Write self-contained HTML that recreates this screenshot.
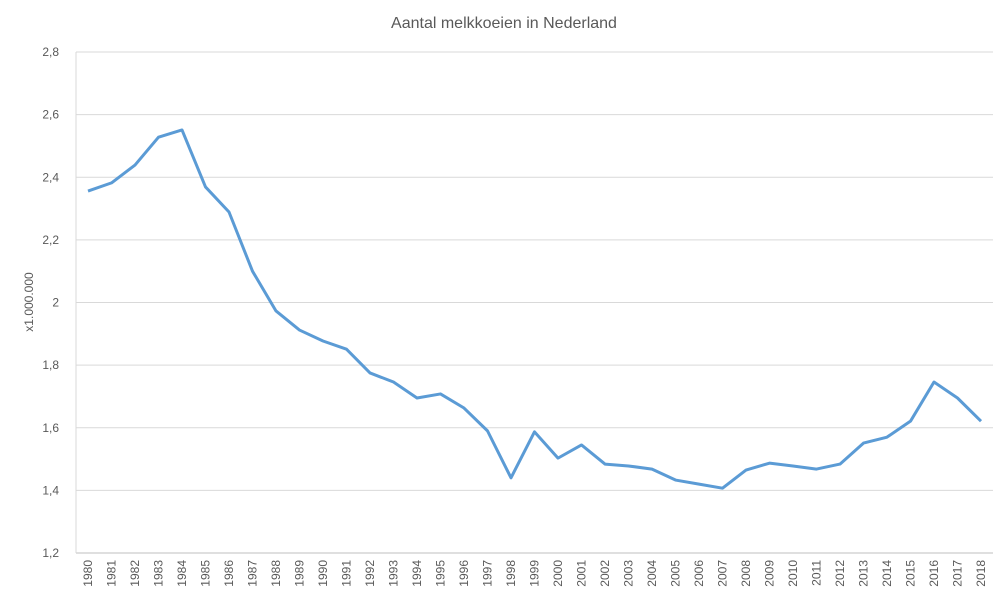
<!DOCTYPE html>
<html><head><meta charset="utf-8"><style>
body{margin:0;background:#fff;font-family:"Liberation Sans",sans-serif}
svg text{font-family:"Liberation Sans",sans-serif;fill:#595959}
</style></head><body>
<svg width="1008" height="606" viewBox="0 0 1008 606">
<text x="504" y="28" text-anchor="middle" font-size="16">Aantal melkkoeien in Nederland</text>
<text transform="translate(33,302) rotate(-90)" text-anchor="middle" font-size="12">x1.000.000</text>
<g id="grid"></g>
<g id="yt"></g>
<g id="xt"></g>
<path id="line" fill="none" stroke="#5b9bd5" stroke-width="3" stroke-linejoin="round"/>
</svg>
<script>
const years=[1980,1981,1982,1983,1984,1985,1986,1987,1988,1989,1990,1991,1992,1993,1994,1995,1996,1997,1998,1999,2000,2001,2002,2003,2004,2005,2006,2007,2008,2009,2010,2011,2012,2013,2014,2015,2016,2017,2018];
const values=[2.356,2.382,2.439,2.528,2.551,2.369,2.289,2.10,1.973,1.912,1.877,1.851,1.775,1.746,1.695,1.708,1.663,1.590,1.440,1.587,1.503,1.545,1.484,1.478,1.468,1.433,1.420,1.407,1.465,1.487,1.478,1.468,1.484,1.551,1.570,1.621,1.746,1.695,1.621];
const yTicks=[1.2,1.4,1.6,1.8,2,2.2,2.4,2.6,2.8];
const yMin=1.2,yMax=2.8,plotTop=52,plotBot=553,x0=88,x1=981,plotLeft=76,plotRight=993;
const ys=v=>plotBot-(v-yMin)/(yMax-yMin)*(plotBot-plotTop);
const xs=i=>x0+i*(x1-x0)/(years.length-1);
const NS="http://www.w3.org/2000/svg";
const grid=document.getElementById('grid'),yt=document.getElementById('yt'),xt=document.getElementById('xt');
yTicks.forEach(t=>{
const l=document.createElementNS(NS,'line');


l.setAttribute('x1',plotLeft);l.setAttribute('x2',plotRight);l.setAttribute('y1',ys(t));l.setAttribute('y2',ys(t));
l.setAttribute('stroke',t===yMin?'#bfbfbf':'#d9d9d9');grid.appendChild(l);
const tx=document.createElementNS(NS,'text');


tx.setAttribute('x',59);tx.setAttribute('y',ys(t)+4);tx.setAttribute('text-anchor','end');tx.setAttribute('font-size','12');
tx.textContent=String(t).replace('.',',');yt.appendChild(tx);
});
const ax=document.createElementNS(NS,'line');


ax.setAttribute('x1',plotLeft);ax.setAttribute('x2',plotLeft);ax.setAttribute('y1',plotTop);ax.setAttribute('y2',plotBot);ax.setAttribute('stroke','#d9d9d9');grid.appendChild(ax);
years.forEach((y,i)=>{
const tx=document.createElementNS(NS,'text');


tx.setAttribute('transform',`translate(${xs(i)+4},${plotBot+7}) rotate(-90)`);
tx.setAttribute('text-anchor','end');tx.setAttribute('font-size','12');
tx.textContent=y;xt.appendChild(tx);
});
document.getElementById('line').setAttribute('d',values.map((v,i)=>(i?'L':'M')+xs(i)+','+ys(v)).join(''));
</script>
</body></html>
